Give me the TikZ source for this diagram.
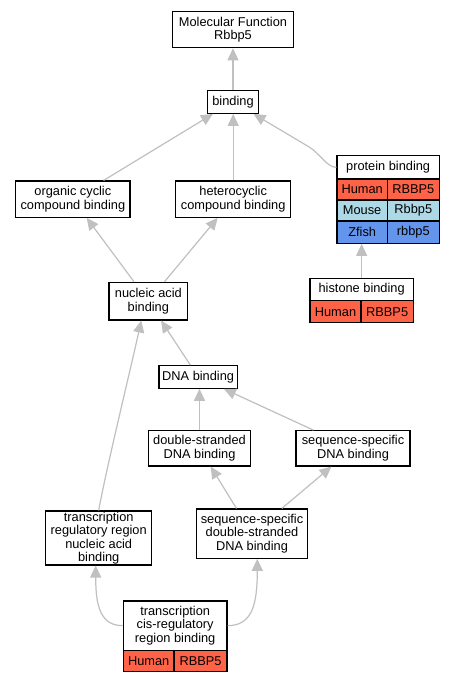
\documentclass[tikz,border=0pt]{standalone}
\usepackage{fontspec}
\setmainfont{Liberation Sans}
\usetikzlibrary{arrows.meta,calc}
\definecolor{human}{HTML}{FF6347}
\definecolor{mouse}{HTML}{ADD8E6}
\definecolor{zfish}{HTML}{6495ED}
\definecolor{edgegray}{HTML}{C0C0C0}
\begin{document}
\begin{tikzpicture}[x=1pt,y=-1pt,
 box/.style={draw=black, line width=1.1pt, fill=white, align=center, inner sep=0pt,
   font=\fontsize{12.8}{13.5}\selectfont},
 edge/.style={draw=edgegray, line width=1.2pt, -{Triangle[length=12pt,width=11pt]}}]
\useasboundingbox (0,0) rectangle (455,683);
\fill[white] (0,0) rectangle (455,683);

\node[box, minimum width=120.6pt, minimum height=36pt] (mf) at (233,29.7) {Molecular Function\\Rbbp5};
\node[box, minimum width=50.6pt, minimum height=23.3pt] (binding) at (233,101.7) {binding};
\node[box, minimum width=114.3pt, minimum height=36.3pt] (oc) at (72.85,199.15) {organic cyclic\\compound binding};
\node[box, minimum width=115pt, minimum height=36.3pt] (hc) at (233.2,199.15) {heterocyclic\\compound binding};

% protein binding table
\node[box, minimum width=102.3pt, minimum height=23.3pt] (pb) at (388.15,167.35) {protein binding};
\node[box, fill=human, minimum width=50.3pt, minimum height=21pt] (pbh1) at (362.15,189.5) {Human};
\node[box, fill=human, minimum width=52pt, minimum height=21pt] (pbh2) at (413.3,189.5) {RBBP5};
\node[box, fill=mouse, minimum width=50.3pt, minimum height=21pt] (pbm1) at (362.15,210.5) {Mouse};
\node[box, fill=mouse, minimum width=52pt, minimum height=21pt] (pbm2) at (413.3,210.5) {Rbbp5};
\node[box, fill=zfish, minimum width=50.3pt, minimum height=22.3pt] (pbz1) at (362.15,232.15) {Zfish};
\node[box, fill=zfish, minimum width=52pt, minimum height=22.3pt] (pbz2) at (413.3,232.15) {rbbp5};

% histone binding table
\node[box, minimum width=103.3pt, minimum height=22.4pt] (hb) at (361.65,289.5) {histone binding};
\node[box, fill=human, minimum width=51pt, minimum height=22pt] (hbh1) at (335.5,311.7) {Human};
\node[box, fill=human, minimum width=52.3pt, minimum height=22pt] (hbh2) at (387.15,311.7) {RBBP5};

\node[box, minimum width=78.7pt, minimum height=37.7pt] (nab) at (148.35,301.15) {nucleic acid\\binding};
\node[box, minimum width=78.3pt, minimum height=22.6pt] (dna) at (198.15,377) {DNA binding};
\node[box, minimum width=102.4pt, minimum height=35.3pt] (ds) at (199.5,448.35) {double-stranded\\DNA binding};
\node[box, minimum width=114pt, minimum height=35.3pt] (ss) at (353,448.35) {sequence-specific\\DNA binding};
\node[box, minimum width=106pt, minimum height=54pt] (trr) at (98.7,538) {transcription\\regulatory region\\nucleic acid\\binding};
\node[box, minimum width=110.6pt, minimum height=49.3pt] (ssds) at (252,533.65) {sequence-specific\\double-stranded\\DNA binding};

% transcription cis-regulatory table
\node[box, minimum width=103.7pt, minimum height=49.3pt] (tcis) at (175.15,625.65) {transcription\\cis-regulatory\\region binding};
\node[box, fill=human, minimum width=50.7pt, minimum height=21.4pt] (tch1) at (148.65,661) {Human};
\node[box, fill=human, minimum width=53pt, minimum height=21.4pt] (tch2) at (200.5,661) {RBBP5};

% edges
\draw[edge] (binding.north) -- (mf.south);
\draw[edge] (oc) -- (binding);
\draw[edge] (hc.north) -- (hc.north |- binding.south);
\draw[edge] (pb.west) .. controls (326,167.35) and (321,153) .. (305,144.5) -- (binding);
\draw[edge] (hb.north) -- (hb.north |- pbz1.south);
\draw[edge] (nab) -- (oc);
\draw[edge] (nab) -- (hc);
\draw[edge] (dna) -- (nab);
\draw[edge] (ds.north) -- (ds.north |- dna.south);
\draw[edge] (ss) -- (dna);
\draw[edge] (ssds) -- (ds);
\draw[edge] (ssds) -- (ss);
\draw[edge] (trr.north) .. controls (106,470) and (128,380) .. ($(nab.south)+(-7,0)$);
\draw[edge] (tcis.west) .. controls (100,625.65) and (95.7,605) .. ($(trr.south)+(-3,0)$);
\draw[edge] (tcis.east) .. controls (252,625.65) and (257.3,605) .. ($(ssds.south)+(5.3,0)$);
\end{tikzpicture}
\end{document}
